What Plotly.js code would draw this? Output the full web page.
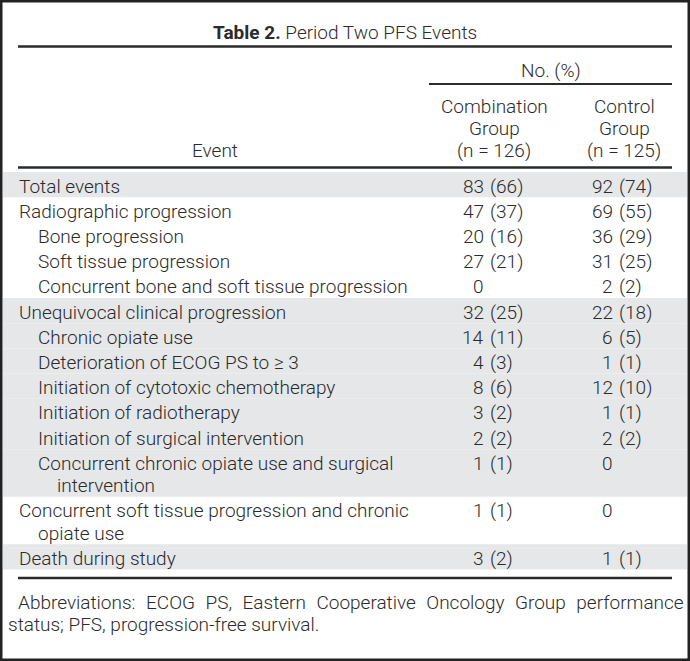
<!DOCTYPE html>
<html>
<head>
<meta charset="utf-8">
<script src="https://cdn.plot.ly/plotly-3.0.1.min.js"></script>
<style>
  html, body { margin: 0; padding: 0; background: #fff; }
  #plotArea { width: 690px; height: 661px; }
</style>
</head>
<body>
<div id="plotArea"></div>
<script>
// table data ("|" marks where a long label wraps)
var events = [
  "Total events",
  "Radiographic progression",
  "Bone progression",
  "Soft tissue progression",
  "Concurrent bone and soft tissue progression",
  "Unequivocal clinical progression",
  "Chronic opiate use",
  "Deterioration of ECOG PS to \u2265 3",
  "Initiation of cytotoxic chemotherapy",
  "Initiation of radiotherapy",
  "Initiation of surgical intervention",
  "Concurrent chronic opiate use and surgical|intervention",
  "Concurrent soft tissue progression and chronic|opiate use",
  "Death during study"
];
var levels = [0, 0, 1, 1, 1, 0, 1, 1, 1, 1, 1, 1, 0, 0];
var shaded = [1, 0, 0, 0, 0, 1, 1, 1, 1, 1, 1, 1, 0, 1];

var combCount = [83, 47, 20, 27, 0, 32, 14, 4, 8, 3, 2, 1, 1, 3];
var combPct   = [66, 37, 16, 21, null, 25, 11, 3, 6, 2, 2, 1, 1, 2];
var ctrlCount = [92, 69, 36, 31, 2, 22, 6, 1, 12, 1, 2, 0, 0, 1];
var ctrlPct   = [74, 55, 29, 25, 2, 18, 5, 1, 10, 1, 2, null, null, 1];

var groupNames = [["Combination", "Group", "(n = 126)"], ["Control", "Group", "(n = 125)"]];
var footnote = "Abbreviations: ECOG PS, Eastern Cooperative Oncology Group performance";
var footnote2 = "status; PFS, progression-free survival.";

var W = 690, H = 661;
var ink = "#2b2b2b";
var band = "#e6e7e8";
var fam = "Roboto, 'Liberation Sans', sans-serif";
var fs = 19;

var firstRow = 172, lineH = 22.3, rowPad = 2.9;
var colRight = [486, 615];
var colMid = [494, 624];

var shapes = [];
var ann = [];

function txt(x, y, s, anchor, extra) {
  var a = {
    x: x, y: y, xref: "x", yref: "y", text: s, showarrow: false,
    xanchor: anchor || "left", yanchor: "middle",
    font: {family: fam, size: fs, color: ink, weight: 300}
  };
  for (var k in extra) a[k] = extra[k];
  ann.push(a);
}

// body rows
var rowY = firstRow;
events.forEach(function (label, i) {
  var parts = label.split("|");
  var h = parts.length * lineH + rowPad;
  if (shaded[i]) {
    shapes.push({type: "rect", xref: "x", yref: "y", x0: 3, x1: 687, y0: rowY, y1: rowY + h,
      fillcolor: band, line: {width: 0}, layer: "below"});
  }
  var yc = rowY + rowPad / 2 + lineH / 2 + 1.5;
  var indent = 17 + levels[i] * 19;
  parts.forEach(function (p, j) {
    txt(j === 0 ? indent : indent + 19, yc + j * lineH, p, "left");
  });
  [[combCount, combPct], [ctrlCount, ctrlPct]].forEach(function (col, c) {
    txt(colRight[c], yc, String(col[0][i]), "right");
    if (col[1][i] !== null) txt(colRight[c] + 2, yc, "(" + col[1][i] + ")", "left");
  });
  rowY += h;
});

// rules
function rule(x0, x1, y, w) {
  shapes.push({type: "line", xref: "x", yref: "y", x0: x0, x1: x1, y0: y, y1: y,
    line: {color: ink, width: w}});
}
rule(18, 672, 46.5, 2.5);
rule(429, 672, 84, 2);
rule(18, 672, 167.5, 2.5);
rule(18, 672, 578, 2.5);

// outer frame
shapes.push({type: "rect", xref: "paper", yref: "paper", x0: 0, x1: 1, y0: 0, y1: 1,
  line: {color: "#222", width: 5}});

// headings
txt(345, 32, "<b>Table 2.</b> Period Two PFS Events", "center");
txt(551, 70, "No. (%)", "center");
txt(215, 150, "Event", "center");
groupNames.forEach(function (lines, c) {
  lines.forEach(function (s, j) {
    txt(colMid[c], 106 + j * 22, s, "center");
  });
});

// footnote
txt(16, 602, footnote.replace(/ /g, "\u00a0\u2009\u200a"), "left");
txt(6, 624, footnote2, "left");

var layout = {
  width: W, height: H,
  margin: {l: 0, r: 0, t: 0, b: 0},
  paper_bgcolor: "#fff", plot_bgcolor: "#fff",
  showlegend: false,
  xaxis: {range: [0, W], visible: false, fixedrange: true},
  yaxis: {range: [H, 0], visible: false, fixedrange: true},
  shapes: shapes,
  annotations: ann
};

Plotly.newPlot("plotArea", [{x: [0], y: [0], mode: "markers", marker: {opacity: 0}, hoverinfo: "skip"}],
  layout, {staticPlot: true});
</script>
</body>
</html>
